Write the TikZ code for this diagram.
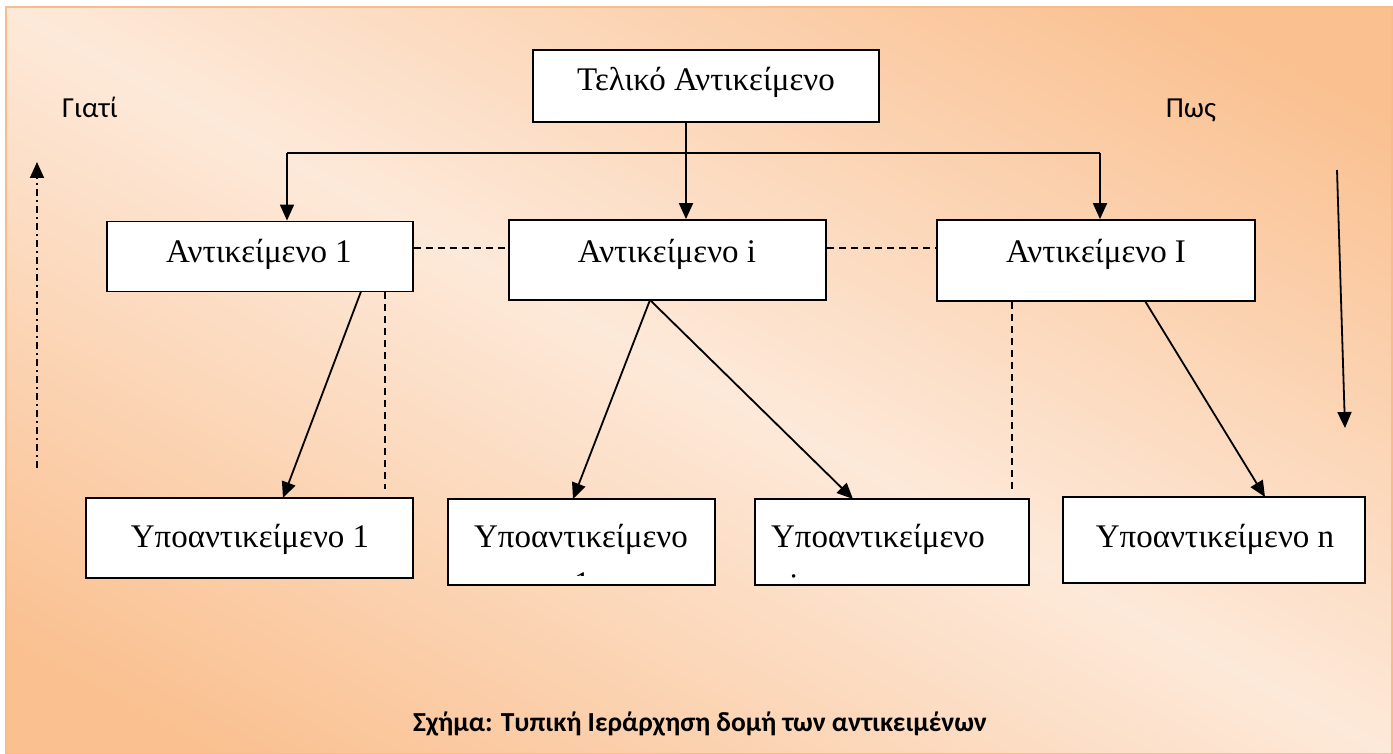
\documentclass[tikz,border=0pt]{standalone}
\usepackage{fontspec}
\setmainfont{Liberation Serif}
\newfontfamily\calfont{Carlito}
\usetikzlibrary{arrows.meta,calc}
\definecolor{peachdark}{HTML}{FAC090}
\definecolor{peachlight}{HTML}{FDE9D9}
\definecolor{framecol}{HTML}{F9BC88}
\tikzset{
  boxst/.style={draw=black,fill=white,line width=1.8pt,inner sep=0pt},
  boxtext/.style={anchor=base,inner sep=0pt,font=\fontsize{33}{40}\selectfont},
  arr/.style={line width=1.8pt,-{Triangle[length=16pt,width=14pt]}},
  plainline/.style={line width=1.8pt},
  dsh/.style={line width=1.6pt,dash pattern=on 7pt off 5pt},
  dashdotarr/.style={line width=1.8pt,dash pattern=on 7pt off 4pt on 2pt off 4pt,-{Triangle[length=16pt,width=14pt]}},
  sidelabel/.style={anchor=base,inner sep=0pt,font=\calfont\fontsize{29}{34}\selectfont},
}
\begin{document}
\begin{tikzpicture}[x=1pt,y=-1pt]
\useasboundingbox (0,0) rectangle (1393,754);
% background
\begin{scope}
\clip (6,7) rectangle (1392,754);
\fill[peachdark] (6,7) rectangle (1392,754);
\begin{scope}[transform canvas={rotate around={-28.3:(699,380.5)}}]
\shade[top color=peachdark,bottom color=peachdark,middle color=peachlight] (-400,-180) rectangle (1800,941);
\end{scope}
\end{scope}
\draw[framecol,line width=2pt] (6,7) rectangle (1392,754);

% boxes
\node[boxst,minimum width=346pt,minimum height=72pt] (top) at (706,86) {};
\node[boxst,minimum width=306pt,minimum height=70pt] (a1) at (260,256.5) {};
\node[boxst,minimum width=317pt,minimum height=80pt] (ai) at (667.5,260) {};
\node[boxst,minimum width=318pt,minimum height=81pt] (aI) at (1096,260.5) {};
\node[boxst,minimum width=327pt,minimum height=80pt] (s1) at (249.5,538) {};
\node[boxst,minimum width=267pt,minimum height=86pt] (s2) at (581.5,542) {};
\node[boxst,minimum width=274pt,minimum height=86pt] (s3) at (892,542) {};
\node[boxst,minimum width=302pt,minimum height=86pt] (sn) at (1214,540) {};

% texts
\node[boxtext] (ttop) at (706,91) {Τελικό Αντικείμενο};
\node[boxtext] (ta1) at (259,262) {Αντικείμενο 1};
\node[boxtext] (tai) at (667,262) {Αντικείμενο i};
\node[boxtext] (taI) at (1096,262) {Αντικείμενο I};
\node[boxtext] (ts1) at (250,547) {Υποαντικείμενο 1};
\node[boxtext] (ts2) at (581,547) {Υποαντικείμενο};
\node[boxtext] (ts3) at (878,547) {Υποαντικείμενο};
\node[boxtext] (tsn) at (1215,547) {Υποαντικείμενο n};
\begin{scope}
\clip (s2.north west) rectangle (s2.east |- 0,575);
\node[boxtext] (ts2b) at (582,594) {1};
\end{scope}
\begin{scope}
\clip (s3.north west) rectangle (s3.east |- 0,577);
\node[boxtext] (ts3b) at (794,596) {i};
\end{scope}

% connectors from top
\draw[arr] ([xshift=-20pt]top.south) -- ([xshift=-20pt]top.south |- ai.north);
\coordinate (hl) at (287,153);
\coordinate (hr) at (1100,153);
\draw[plainline] (hl) -- (hr);
\draw[arr] (hl) -- (hl |- a1.north);
\draw[arr] (hr) -- (hr |- aI.north);

% dashed peers
\draw[dsh] (a1.east |- 0,248) -- (ai.west |- 0,248);
\draw[dsh] (ai.east |- 0,248) -- (aI.west |- 0,248);

% children
\draw[arr] (361,291.5) -- (283,498);
\coordinate (d1) at (385,489);
\draw[dsh] (a1.south -| d1) -- (d1);
\draw[arr] (650,300) -- (573,499);
\draw[arr] (650,300) -- (853,499);
\coordinate (d2) at (1012,489);
\draw[dsh] (aI.south -| d2) -- (d2);
\draw[arr] (1145,301) -- (1265,497);

% side arrows and labels
\coordinate (lb) at (37,468);
\coordinate (lt) at (37,162);
\draw[dashdotarr] (lb) -- (lt);
\coordinate (rt) at (1337,170);
\coordinate (rb) at (1345,428);
\draw[arr] (rt) -- (rb);
\node[sidelabel] (why) at (90,118) {Γιατί};
\node[sidelabel] (how) at (1191,118) {Πως};

% caption
\node[anchor=base,inner sep=0pt,font=\calfont\bfseries\fontsize{27.5}{33}\selectfont] (cap) at (700,731) {Σχήμα: Τυπική Ιεράρχηση δομή των αντικειμένων};
\end{tikzpicture}
\end{document}
